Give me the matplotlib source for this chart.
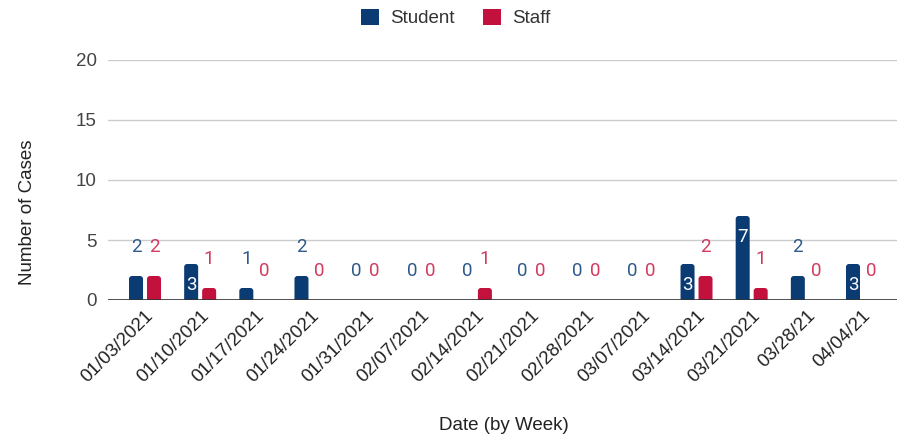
import matplotlib
matplotlib.use("Agg")
import matplotlib.pyplot as plt
import numpy as np
from matplotlib.patches import Patch, FancyBboxPatch

weeks = ["01/03/2021", "01/10/2021", "01/17/2021", "01/24/2021", "01/31/2021",
         "02/07/2021", "02/14/2021", "02/21/2021", "02/28/2021", "03/07/2021",
         "03/14/2021", "03/21/2021", "03/28/21", "04/04/21"]
student = [2, 3, 1, 2, 0, 0, 0, 0, 0, 0, 3, 7, 2, 3]
staff = [2, 1, 0, 0, 0, 0, 1, 0, 0, 0, 2, 1, 0, 0]

C_STUDENT = "#0b3b73"
C_STAFF = "#c2113d"
L_STUDENT = "#2e5a8c"
L_STAFF = "#d23a60"
FS = 13.5

plt.rcParams["font.family"] = ["Liberation Sans", "DejaVu Sans"]

W, H = 897, 436
fig = plt.figure(figsize=(W / 100, H / 100), dpi=100)
ax = fig.add_axes([108 / W, 136 / H, (W - 108) / W, 240 / H])

x = np.arange(len(weeks))
w = 0.254
off = 0.163
ax.set_ylim(0, 20)
ax.set_xlim(-0.671, 13.635)

# pixel scale of the axes, used to keep the corner radius round
px_per_x = (W - 108) / (13.635 + 0.671)
px_per_y = 240 / 20
aspect = px_per_x / px_per_y
radius = 3 / px_per_x


def rounded_bars(xs, vals, color):
    rects = []
    for xc, v in zip(xs, vals):
        if v > 0:
            p = FancyBboxPatch((xc - w / 2, -1), w, v + 1,
                               boxstyle=f"round,pad=0,rounding_size={radius}",
                               mutation_aspect=aspect, facecolor=color,
                               edgecolor="none", zorder=3)
            ax.add_patch(p)
        rects.append((xc, v))
    return rects


b1 = rounded_bars(x - off, student, C_STUDENT)
b2 = rounded_bars(x + off, staff, C_STAFF)

ax.set_yticks([0, 5, 10, 15, 20])
ax.grid(axis="y", color="#cccccc", linewidth=1, zorder=0)
ax.axhline(0, color="#333333", linewidth=1.2, zorder=4)
for s in ax.spines.values():
    s.set_visible(False)
ax.tick_params(axis="y", length=0, pad=8, labelsize=FS, labelcolor="#444444")
ax.tick_params(axis="x", length=0, pad=5, labelsize=FS, labelcolor="#222222")
ax.set_xticks(x)
ax.set_xticklabels(weeks, rotation=45, ha="right", va="top", rotation_mode="anchor")


# value labels: inside the bar for tall bars, above otherwise
def label_bars(bars, outside_color):
    for cx, v in bars:
        if v >= 3:
            ax.annotate(str(v), (cx, v), xytext=(0, -15), textcoords="offset points",
                        ha="center", va="center", color="white", fontsize=FS,
                        family=["Roboto", "DejaVu Sans"], zorder=5)
        else:
            ax.annotate(str(v), (cx, v), xytext=(0, 21), textcoords="offset points",
                        ha="center", va="center", color=outside_color, fontsize=FS,
                        family=["Roboto", "DejaVu Sans"], zorder=5)


label_bars(b1, L_STUDENT)
label_bars(b2, L_STAFF)

fig.text(28 / W, 1 - 212 / H, "Number of Cases", rotation=90, ha="center", va="center",
         fontsize=FS, color="#222222")
fig.text(504 / W, 1 - 425 / H, "Date (by Week)", ha="center", va="center",
         fontsize=FS, color="#222222")

handles = [Patch(facecolor=C_STUDENT, label="Student"), Patch(facecolor=C_STAFF, label="Staff")]
fig.legend(handles=handles, loc="center", bbox_to_anchor=(456 / W, 1 - 18 / H), ncol=2,
           frameon=False, fontsize=FS, handlelength=0.95, handleheight=0.95,
           handletextpad=0.6, columnspacing=1.5, labelcolor="#333333")

fig.savefig("out.png", dpi=100)
